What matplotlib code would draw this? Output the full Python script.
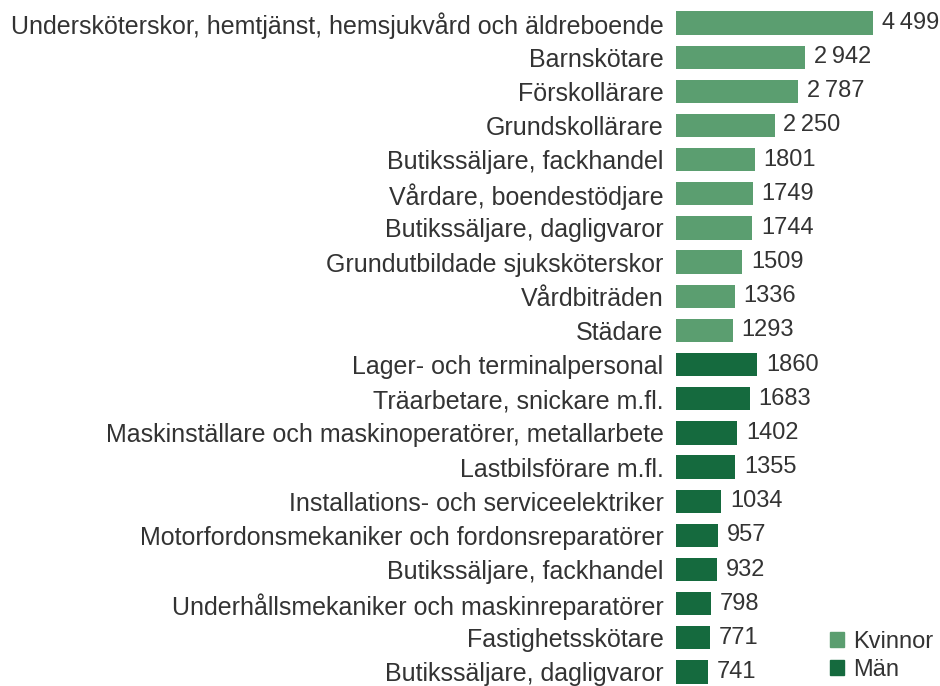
import matplotlib.pyplot as plt
from matplotlib.patches import Patch

# occupations, top to bottom
women_jobs = ['Undersköterskor, hemtjänst, hemsjukvård och äldreboende', 'Barnskötare',
              'Förskollärare', 'Grundskollärare', 'Butikssäljare, fackhandel',
              'Vårdare, boendestödjare', 'Butikssäljare, dagligvaror',
              'Grundutbildade sjuksköterskor', 'Vårdbiträden', 'Städare']
women_vals = [4499, 2942, 2787, 2250, 1801, 1749, 1744, 1509, 1336, 1293]
men_jobs = ['Lager- och terminalpersonal', 'Träarbetare, snickare m.fl.',
            'Maskinställare och maskinoperatörer, metallarbete', 'Lastbilsförare m.fl.',
            'Installations- och serviceelektriker',
            'Motorfordonsmekaniker och fordonsreparatörer', 'Butikssäljare, fackhandel',
            'Underhållsmekaniker och maskinreparatörer', 'Fastighetsskötare',
            'Butikssäljare, dagligvaror']
men_vals = [1860, 1683, 1402, 1355, 1034, 957, 932, 798, 771, 741]

c_women = '#5b9e70'
c_men = '#156a3e'
txt = '#333333'

plt.rcParams['font.family'] = ['Liberation Sans', 'DejaVu Sans']

labels = women_jobs + men_jobs
vals = women_vals + men_vals
colors = [c_women] * len(women_vals) + [c_men] * len(men_vals)
ypos = list(range(len(vals)))

fig = plt.figure(figsize=(9.4, 6.86), dpi=100)
ax = fig.add_axes([676 / 940, 0, 1 - 676 / 940, 1])
ax.barh(ypos, vals, height=0.68, color=colors)
ax.set_xlim(0, 6027)
ax.set_ylim(19.41, -0.673)

ax.set_yticks(ypos)
ax.set_yticklabels(labels, fontsize=18, color=txt)
ax.tick_params(axis='y', length=0, pad=9)
ax.set_xticks([])
for s in ax.spines.values():
    s.set_visible(False)


def fmt(v):
    s = str(v)
    if v >= 2000:
        s = s[0] + '\u2009' + s[1:]
    return s


for y, v in zip(ypos, vals):
    ax.text(v + 200, y, fmt(v), va='center', ha='left', fontsize=17, color=txt)

handles = [Patch(color=c_women, label='Kvinnor'), Patch(color=c_men, label='Män')]
ax.legend(handles=handles, loc='lower right', bbox_to_anchor=(1.02, -0.01),
          frameon=False, fontsize=17, handlelength=0.6, handleheight=0.6,
          handletextpad=0.4, labelspacing=0.25, labelcolor=txt, borderaxespad=0.1)

fig.savefig('out.png', dpi=100)
